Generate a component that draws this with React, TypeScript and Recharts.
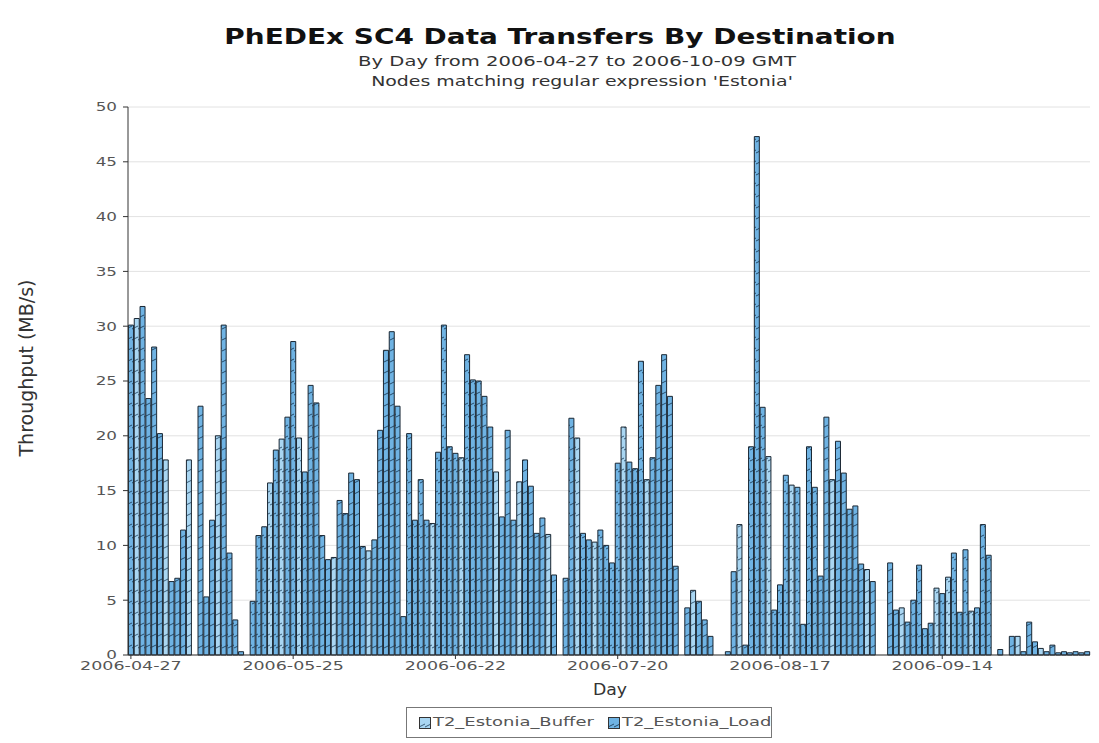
import React from "react";
import { Bar, BarChart, CartesianGrid, XAxis, YAxis } from "recharts";

// daily throughput (MB/s), 2006-04-27 .. 2006-10-09, two weeks per row
const loadValues = [
  30.1, 0, 31.8, 23.4, 28.1, 20.2, 0, 6.7, 7.0, 11.4, 0, 0, 22.7, 5.3,
  12.3, 0, 30.1, 9.3, 3.2, 0.3, 0, 4.9, 10.9, 11.7, 0, 18.7, 0, 21.7,
  28.6, 0, 16.7, 24.6, 23.0, 10.9, 8.7, 0, 14.1, 12.9, 16.6, 16.0, 9.9, 0,
  10.5, 20.5, 27.8, 29.5, 22.7, 3.5, 20.2, 12.3, 16.0, 12.3, 0, 18.5, 30.1, 19.0,
  18.4, 0, 27.4, 25.1, 25.0, 23.6, 20.8, 0, 12.6, 20.5, 12.3, 0, 17.8, 15.4,
  11.1, 12.5, 0, 7.3, 0, 7.0, 21.6, 0, 11.1, 10.5, 0, 11.4, 10.0, 8.4,
  17.5, 0, 17.6, 17.0, 26.8, 0, 18.0, 24.6, 27.4, 23.6, 8.1, 0, 4.3, 0,
  4.9, 3.2, 1.7, 0, 0, 0.3, 7.6, 0, 0.9, 19.0, 47.3, 22.6, 0, 4.1,
  6.4, 16.4, 0, 15.3, 2.8, 19.0, 15.3, 7.2, 21.7, 0, 19.5, 16.6, 13.3, 13.6,
  8.3, 0, 6.7, 0, 0, 8.4, 4.1, 0, 3.0, 5.0, 8.2, 2.4, 2.9, 0,
  5.6, 0, 9.3, 3.9, 9.6, 0, 4.3, 11.9, 9.1, 0, 0.5, 0, 1.7, 0,
  0.3, 3.0, 1.2, 0, 0.3, 0.9, 0.2, 0.3, 0.2, 0.3, 0.2, 0.3,
];

const bufferValues = [
  0, 30.7, 0, 0, 0, 0, 17.8, 0, 0, 0, 17.8, 0, 0, 0,
  0, 20.0, 0, 0, 0, 0, 0, 0, 0, 0, 15.7, 0, 19.7, 0,
  0, 19.8, 0, 0, 0, 0, 0, 8.9, 0, 0, 0, 0, 0, 9.5,
  0, 0, 0, 0, 0, 0, 0, 0, 0, 0, 12.0, 0, 0, 0,
  0, 18.0, 0, 0, 0, 0, 0, 16.7, 0, 0, 0, 15.8, 0, 0,
  0, 0, 11.0, 0, 0, 0, 0, 19.8, 0, 0, 10.3, 0, 0, 0,
  0, 20.8, 0, 0, 0, 16.0, 0, 0, 0, 0, 0, 0, 0, 5.9,
  0, 0, 0, 0, 0, 0, 0, 11.9, 0, 0, 0, 0, 18.1, 0,
  0, 0, 15.5, 0, 0, 0, 0, 0, 0, 16.0, 0, 0, 0, 0,
  0, 7.8, 0, 0, 0, 0, 0, 4.3, 0, 0, 0, 0, 0, 6.1,
  0, 7.1, 0, 0, 0, 4.0, 0, 0, 0, 0, 0, 0, 0, 1.7,
  0, 0, 0, 0.6, 0, 0, 0, 0, 0, 0, 0, 0,
];

const startDay = "2006-04-27";
const dayTicks = ["2006-04-27", "2006-05-25", "2006-06-22", "2006-07-20", "2006-08-17", "2006-09-14"];
const yTicks = [0, 5, 10, 15, 20, 25, 30, 35, 40, 45, 50];
const yMinorTicks = Array.from({ length: 51 }, (_, i) => i);

const start = Date.parse(startDay + "T00:00:00Z");
const data = loadValues.map((load, i) => ({
  day: new Date(start + i * 86400000).toISOString().slice(0, 10),
  buffer: bufferValues[i],
  load,
}));

const FONT = "'DejaVu Sans', Verdana, sans-serif";
const STRETCH = 1.4; // the source picture is widened, so is its lettering

function XTick({ x, y, payload }: any) {
  return (
    <text x={0} y={0} transform={`translate(${x},${y}) scale(${STRETCH},1)`} textAnchor="middle" dy="0.75em" fill="#555" fontSize={12.5} fontFamily={FONT}>
      {payload.value}
    </text>
  );
}

function YTick({ x, y, payload }: any) {
  return (
    <text x={0} y={0} transform={`translate(${x},${y}) scale(${STRETCH},1)`} textAnchor="end" dy="0.36em" fill="#555" fontSize={12} fontFamily={FONT}>
      {payload.value}
    </text>
  );
}

function Swatch({ id, left }: { id: string; left: number }) {
  return (
    <svg width={12} height={12} style={{ position: "absolute", left, top: 9 }}>
      <rect x={0.5} y={0.5} width={11} height={11} fill={`url(#${id})`} stroke="#333" />
    </svg>
  );
}

const wide = (left: number, top: number, size: number, sx: number): React.CSSProperties => ({
  position: "absolute",
  left,
  top,
  fontSize: size,
  whiteSpace: "nowrap",
  transform: `scaleX(${sx})`,
  transformOrigin: "left top",
});

export default function App() {
  return (
    <div style={{ position: "absolute", left: 0, top: 0, width: 1099, height: 743, background: "#fff", fontFamily: FONT }}>
      <div style={{ position: "absolute", left: 560, top: 24, transform: "translateX(-50%) scaleX(1.27)", fontSize: 22, fontWeight: "bold", color: "#111", whiteSpace: "nowrap" }}>
        PhEDEx SC4 Data Transfers By Destination
      </div>
      <div style={{ position: "absolute", left: 577, top: 53, transform: "translateX(-50%) scaleX(1.45)", fontSize: 13.5, color: "#333", whiteSpace: "nowrap" }}>
        By Day from 2006-04-27 to 2006-10-09 GMT
      </div>
      <div style={{ position: "absolute", left: 582, top: 73, transform: "translateX(-50%) scaleX(1.4)", fontSize: 13.5, color: "#333", whiteSpace: "nowrap" }}>
        Nodes matching regular expression 'Estonia'
      </div>
      <div style={{ position: "absolute", left: 26, top: 368, transform: "translate(-50%, -50%) rotate(-90deg)", fontSize: 19, color: "#333", whiteSpace: "nowrap" }}>
        Throughput (MB/s)
      </div>
      <div style={{ position: "absolute", left: 610, top: 690, transform: "translate(-50%, -50%) scaleX(1.15)", fontSize: 15, color: "#333" }}>
        Day
      </div>

      <BarChart width={1099} height={743} data={data} margin={{ top: 107, right: 9, bottom: 58, left: 0 }} barCategoryGap="8%">
        <defs>
          <pattern id="hatchLoad" patternUnits="userSpaceOnUse" width={6} height={11}>
            <rect width={6} height={11} fill="#6fb3e3" />
            <path d="M0,10 L6,7" stroke="#1d3f5c" strokeWidth={0.9} />
          </pattern>
          <pattern id="hatchBuffer" patternUnits="userSpaceOnUse" width={6} height={11}>
            <rect width={6} height={11} fill="#a9d6f2" />
            <path d="M0,10 L6,7" stroke="#2d4f6a" strokeWidth={0.9} />
          </pattern>
        </defs>
        <CartesianGrid vertical={false} stroke="#e2e2e2" />
        <XAxis dataKey="day" ticks={dayTicks} interval={0} height={30} stroke="#333" tickSize={4} tickMargin={2} tick={<XTick />} />
        <YAxis domain={[0, 50]} ticks={yTicks} width={128} stroke="#333" tickSize={5} tickMargin={6} tick={<YTick />} />
        <YAxis yAxisId="minor" domain={[0, 50]} ticks={yMinorTicks} width={0} mirror axisLine={false} tickSize={3} stroke="#333" tickFormatter={() => ""} />
        <Bar dataKey="buffer" stackId="a" fill="url(#hatchBuffer)" stroke="#1a2733" strokeWidth={1} isAnimationActive={false} />
        <Bar dataKey="load" stackId="a" fill="url(#hatchLoad)" stroke="#1a2733" strokeWidth={1} isAnimationActive={false} />
      </BarChart>

      <div style={{ position: "absolute", left: 406, top: 707, width: 366, height: 31, boxSizing: "border-box", border: "1px solid #777", fontSize: 13, color: "#555" }}>
        <Swatch id="hatchBuffer" left={12} />
        <span style={wide(26, 6, 13, 1.38)}>T2_Estonia_Buffer</span>
        <Swatch id="hatchLoad" left={201} />
        <span style={wide(215, 6, 13, 1.38)}>T2_Estonia_Load</span>
      </div>
    </div>
  );
}
